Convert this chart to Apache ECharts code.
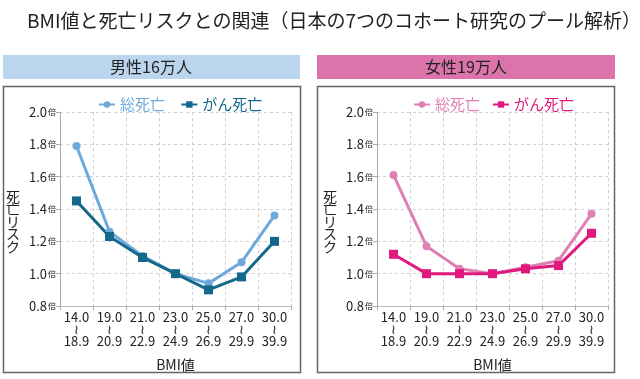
<!DOCTYPE html>
<html><head><meta charset="utf-8">
<script src="https://cdn.jsdelivr.net/npm/echarts@6/dist/echarts.min.js"></script>
<style>html,body{margin:0;padding:0;background:#fff}#c{width:640px;height:379px}</style>
</head><body><div id="c"></div>
<script>
const categories = ['14.0\n≀\n18.9','19.0\n≀\n20.9','21.0\n≀\n22.9','23.0\n≀\n24.9','25.0\n≀\n26.9','27.0\n≀\n29.9','30.0\n≀\n39.9'];
const menTotal = [1.79, 1.26, 1.11, 1.00, 0.94, 1.07, 1.36];
const menCancer = [1.45, 1.23, 1.10, 1.00, 0.90, 0.98, 1.20];
const womenTotal = [1.61, 1.17, 1.03, 1.00, 1.04, 1.08, 1.37];
const womenCancer = [1.12, 1.00, 1.00, 1.00, 1.03, 1.05, 1.25];
const seriesNames = ['総死亡', 'がん死亡'];
const panelTitles = ['男性16万人', '女性19万人'];
const chartTitle = 'BMI値と死亡リスクとの関連（日本の7つのコホート研究のプール解析）';

const FONT = '"Noto Sans CJK JP", "Noto Sans", sans-serif';
const chart = echarts.init(document.getElementById('c'));
const colors = { mT: '#6ea9da', mC: '#13688c', wT: '#e07fb3', wC: '#e0197f' };

function xAxis(gi) {
  return {
    type: 'category', gridIndex: gi, data: categories, boundaryGap: true,
    name: 'BMI値', nameLocation: 'middle', nameGap: 52,
    nameTextStyle: { fontSize: 14, color: '#222', fontFamily: FONT },
    axisLine: { lineStyle: { color: '#bbb' } },
    axisTick: { show: true, length: 4, lineStyle: { color: '#aaa' } },
    axisLabel: { fontSize: 13, lineHeight: 12, color: '#222', margin: 5, fontFamily: FONT, interval: 0 },
    splitLine: { show: true, lineStyle: { color: '#d0d0d0', type: [3, 3] } }
  };
}
function yAxis(gi) {
  return {
    type: 'value', gridIndex: gi, min: 0.8, max: 2.0, interval: 0.2,
    name: '\n\n死\n亡\nリ\nス\nク', nameLocation: 'middle', nameRotate: 0, nameGap: 40,
    nameTextStyle: { fontSize: 14, lineHeight: 12.5, color: '#222', fontFamily: FONT },
    axisLine: { show: true, lineStyle: { color: '#aaa' } },
    axisTick: { show: true, length: 4, lineStyle: { color: '#aaa' } },
    axisLabel: {
      color: '#222', margin: 4, fontFamily: FONT,
      formatter: v => v.toFixed(1) + '{s|倍}',
      rich: { s: { fontSize: 8, color: '#222', fontFamily: FONT, padding: [0, 0, 0, 1] } },
      fontSize: 13
    },
    splitLine: { show: true, lineStyle: { color: '#d0d0d0', type: [3, 3] } }
  };
}
function line(name, data, color, sym, gi, size) {
  return {
    name, type: 'line', data, xAxisIndex: gi, yAxisIndex: gi,
    symbol: sym, symbolSize: size, showSymbol: true,
    lineStyle: { color, width: 3 }, itemStyle: { color }
  };
}

chart.setOption({
  animation: false,
  title: { text: chartTitle, left: 22, top: 6, textStyle: { fontSize: 19, fontWeight: 'normal', color: '#222', fontFamily: FONT } },
  legend: [
    { data: [ { name: seriesNames[0] + ' ', textStyle: { color: colors.mT } }, { name: seriesNames[1] + ' ', textStyle: { color: colors.mC } } ],
      left: 93, top: 92, itemWidth: 16, itemHeight: 8, itemGap: 12,
      textStyle: { fontSize: 15, fontFamily: FONT } },
    { data: [ { name: seriesNames[0], textStyle: { color: colors.wT } }, { name: seriesNames[1], textStyle: { color: colors.wC } } ],
      left: 408, top: 92, itemWidth: 16, itemHeight: 8, itemGap: 12,
      textStyle: { fontSize: 15, fontFamily: FONT } }
  ],
  grid: [
    { left: 60, top: 112, width: 231, height: 194 },
    { left: 377, top: 112, width: 231, height: 194 }
  ],
  xAxis: [xAxis(0), xAxis(1)],
  yAxis: [yAxis(0), yAxis(1)],
  series: [
    line(seriesNames[0] + ' ', menTotal, colors.mT, 'circle', 0, 8),
    line(seriesNames[1] + ' ', menCancer, colors.mC, 'rect', 0, 9),
    line(seriesNames[0], womenTotal, colors.wT, 'circle', 1, 8),
    line(seriesNames[1], womenCancer, colors.wC, 'rect', 1, 9)
  ],
  graphic: [
    { type: 'rect', shape: { x: 3, y: 55, width: 297, height: 24 }, style: { fill: '#bcd5ef' }, z: -1 },
    { type: 'rect', shape: { x: 317, y: 55, width: 298, height: 24 }, style: { fill: '#dc74ab' }, z: -1 },
    { type: 'text', x: 151, y: 67, style: { text: panelTitles[0], fontSize: 16, fill: '#222', fontFamily: FONT, textAlign: 'center', textVerticalAlign: 'middle' } },
    { type: 'text', x: 466, y: 67, style: { text: panelTitles[1], fontSize: 16, fill: '#222', fontFamily: FONT, textAlign: 'center', textVerticalAlign: 'middle' } },
    { type: 'rect', shape: { x: 3.5, y: 86.5, width: 297, height: 286 }, style: { fill: 'none', stroke: '#666', lineWidth: 1.5 }, z: -1 },
    { type: 'rect', shape: { x: 317.5, y: 86.5, width: 297, height: 286 }, style: { fill: 'none', stroke: '#666', lineWidth: 1.5 }, z: -1 }
  ]
});
</script>
</body></html>
